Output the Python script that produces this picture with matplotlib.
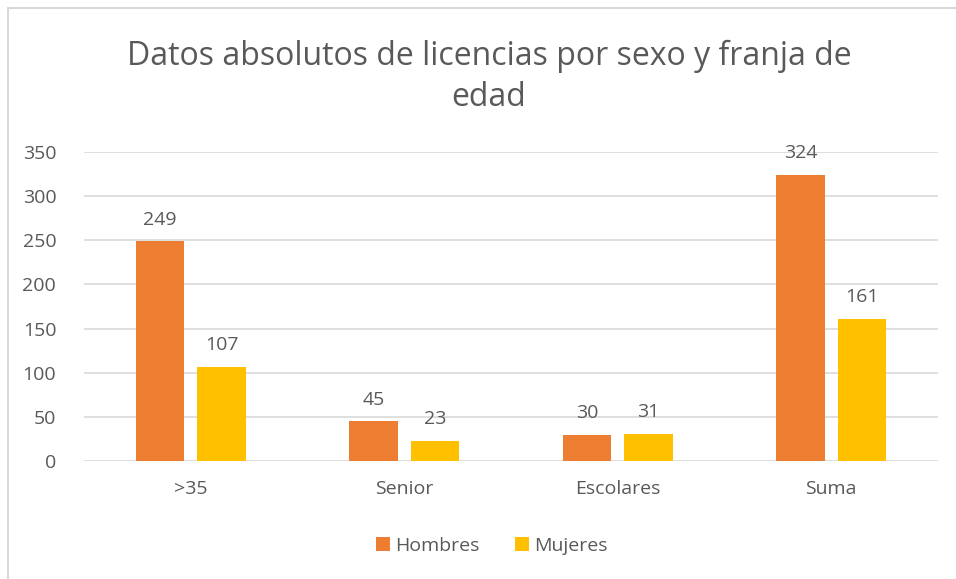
import matplotlib
matplotlib.use("Agg")
import matplotlib.pyplot as plt
import numpy as np
from matplotlib.patches import Rectangle

categories = [">35", "Senior", "Escolares", "Suma"]
hombres = [249, 45, 30, 324]
mujeres = [107, 23, 31, 161]
series_names = ["Hombres", "Mujeres"]
yticks = [0, 50, 100, 150, 200, 250, 300, 350]

plt.rcParams['font.family'] = ['Open Sans', 'DejaVu Sans']
txt = '#595959'
fig = plt.figure(figsize=(9.56, 5.79), dpi=100)
W, H = 956, 579

# chart border (left/top visible)
fig.patches.append(Rectangle((8/W, -0.1), 1.2, 1 - 8/H + 0.1, transform=fig.transFigure,
                             fill=False, edgecolor='#d9d9d9', linewidth=1.5))

ax = fig.add_axes([84/W, 1 - 461/H, (938-84)/W, (461-152)/H])
x = np.arange(len(categories))
w = 0.225
off = 0.144
b1 = ax.bar(x - off, hombres, w, color='#ED7D31', label=series_names[0], zorder=3)
b2 = ax.bar(x + off, mujeres, w, color='#FFC000', label=series_names[1], zorder=3)
for bars in (b1, b2):
    ax.bar_label(bars, padding=9, fontsize=14, color=txt)

ax.set_xlim(-0.5, 3.5)
ax.set_ylim(0, 350)
ax.set_yticks(yticks)
ax.set_xticks(x)
ax.set_xticklabels(categories)
ax.tick_params(axis='both', length=0, labelsize=14, colors=txt)
ax.tick_params(axis='y', pad=20)
ax.tick_params(axis='x', pad=14)
ax.grid(axis='y', color='#d9d9d9', linewidth=1.2, zorder=0)
for s in ax.spines.values():
    s.set_visible(False)

fig.text(489/W, 1 - 77/H, "Datos absolutos de licencias por sexo y franja de\nedad",
         ha='center', va='center', fontsize=23, color=txt, linespacing=1.3)

fig.legend(handles=[b1, b2], labels=series_names, loc='center', bbox_to_anchor=(492/W, 1 - 546/H),
           ncol=2, frameon=False, fontsize=14, labelcolor=txt, handlelength=0.7,
           handleheight=0.7, handletextpad=0.3, columnspacing=1.8)

fig.savefig("out.png", dpi=100)
